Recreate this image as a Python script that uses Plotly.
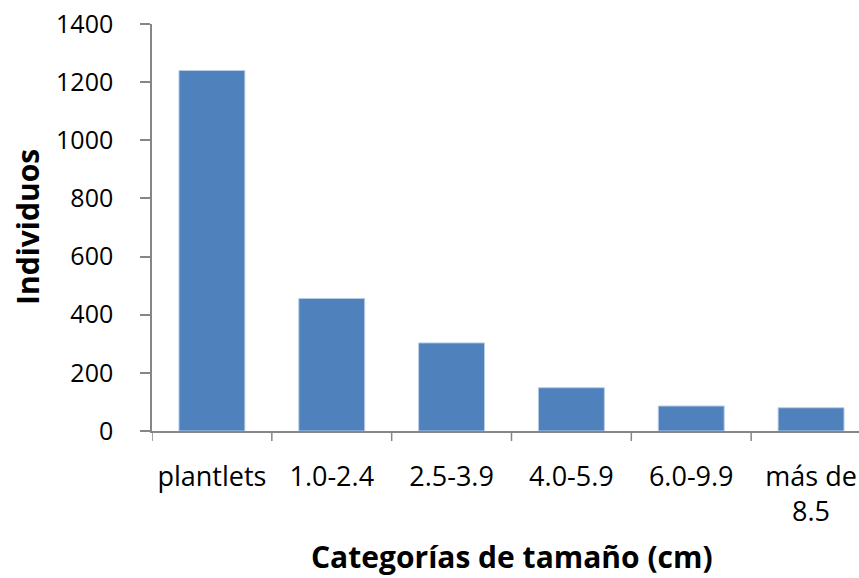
import plotly.graph_objects as go

categories = ["plantlets", "1.0-2.4", "2.5-3.9", "4.0-5.9", "6.0-9.9", "más de<br>8.5"]
individuos = [1240, 456, 303, 149, 86, 80]
y_ticks = [0, 200, 400, 600, 800, 1000, 1200, 1400]

FONT = "Open Sans"
AXIS_GRAY = "#868686"

fig = go.Figure(
    go.Bar(
        x=list(range(len(categories))),
        y=individuos,
        width=0.55,
        marker=dict(color="#4f81bd", line=dict(color="#b9cde5", width=1)),
    )
)

fig.update_layout(
    width=859,
    height=578,
    margin=dict(l=152, r=0, t=24, b=147),
    paper_bgcolor="white",
    plot_bgcolor="white",
    showlegend=False,
    font=dict(family=FONT, size=26, color="black"),
    xaxis=dict(
        tickmode="array",
        tickvals=list(range(len(categories))),
        ticktext=categories,
        range=[-0.5, 5.4],
        showgrid=False,
        zeroline=False,
        showline=True,
        linecolor=AXIS_GRAY,
        linewidth=1.5,
        ticks="",
        ticklabelstandoff=21,
        tickfont=dict(family=FONT, size=27),
    ),
    yaxis=dict(
        range=[0, 1400],
        tickvals=y_ticks,
        showgrid=False,
        zeroline=False,
        showline=True,
        linecolor=AXIS_GRAY,
        linewidth=1.5,
        ticks="outside",
        ticklen=10,
        tickcolor=AXIS_GRAY,
        tickwidth=1.5,
        ticklabelstandoff=22,
        tickfont=dict(family=FONT, size=25),
    ),
)

# category boundary tick marks below the x axis
for b in [i - 0.5 for i in range(len(categories) + 1)]:
    fig.add_shape(
        type="line", xref="x", yref="paper",
        x0=b, x1=b, y0=0, y1=-10 / 407,
        line=dict(color=AXIS_GRAY, width=1.5),
    )

fig.add_annotation(
    text="<b>Individuos</b>", textangle=-90,
    xref="paper", yref="paper", x=(28 - 152) / 707, y=(431 - 227) / 407,
    xanchor="center", yanchor="middle", showarrow=False,
    font=dict(family=FONT, size=30),
)
fig.add_annotation(
    text="<b>Categorías de tamaño (cm)</b>",
    xref="paper", yref="paper", x=(512 - 152) / 707, y=-(556 - 431) / 407,
    xanchor="center", yanchor="middle", showarrow=False,
    font=dict(family=FONT, size=30),
)

fig.write_html("out.html")
